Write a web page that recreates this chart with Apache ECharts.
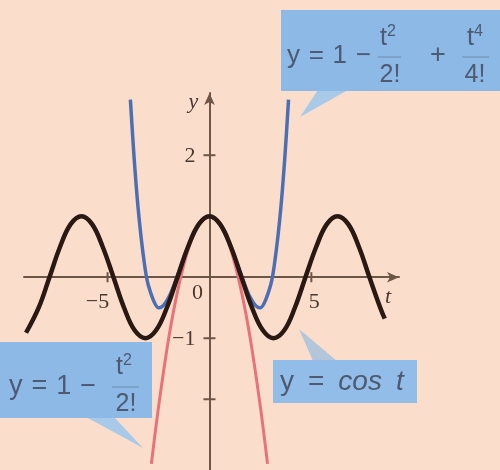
<!DOCTYPE html>
<html>
<head>
<meta charset="utf-8">
<script src="https://cdn.jsdelivr.net/npm/echarts@6/dist/echarts.min.js"></script>
<style>
  html, body { margin: 0; padding: 0; background: #fadecb; }
  #chart { width: 500px; height: 470px; }
</style>
</head>
<body>
<div id="chart"></div>
<script>
// y = cos t
const cosT = [-9.00, -8.38, -7.85, -7.33, -6.81, -6.28, -5.76, -5.24, -4.71, -4.19, -3.67, -3.14, -2.62, -2.09, -1.57, -1.05, -0.52,
              0, 0.52, 1.05, 1.57, 2.09, 2.62, 3.14, 3.67, 4.19, 4.71, 5.24, 5.76, 6.28, 6.81, 7.33, 7.85, 8.38, 8.60];
const cosY = [-0.91, -0.50, 0.00, 0.50, 0.87, 1.00, 0.87, 0.50, 0.00, -0.50, -0.87, -1.00, -0.87, -0.50, 0.00, 0.50, 0.87,
              1.00, 0.87, 0.50, 0.00, -0.50, -0.87, -1.00, -0.87, -0.50, 0.00, 0.50, 0.87, 1.00, 0.87, 0.50, 0.00, -0.50, -0.68];

// y = 1 - t^2/2! + t^4/4!
const quartT = [-3.88, -3.7, -3.5, -3.25, -3, -2.5, -2.45, -2, -1.5, -1, -0.5, 0, 0.5, 1, 1.5, 2, 2.45, 2.5, 3, 3.25, 3.5, 3.7, 3.88];
const quartY = [2.91, 1.97, 1.13, 0.37, -0.13, -0.50, -0.50, -0.33, 0.09, 0.54, 0.88, 1.00, 0.88, 0.54, 0.09, -0.33, -0.50, -0.50, -0.13, 0.37, 1.13, 1.97, 2.91];

// y = 1 - t^2/2!
const quadT = [-2.85, -2.5, -2, -1.5, -1, -0.5, 0, 0.5, 1, 1.5, 2, 2.5, 2.85];
const quadY = [-3.06, -2.13, -1.00, -0.13, 0.50, 0.88, 1.00, 0.88, 0.50, -0.13, -1.00, -2.13, -3.06];

// axis ticks and labels
const xTicks = [-5, 5];
const xTickLabels = ['−5', '5'];
const yTicks = [2, -1, -2];
const yLabelTicks = [2, -1];
const yTickLabels = ['2', '−1'];
const originLabel = '0';
const xName = 't';
const yName = 'y';

const zip = (a, b) => a.map((v, i) => [v, b[i]]);

const axisColor = '#6e5646';
const labelColor = '#4a382e';
const boxText = '#4d5a72';
const serif = '"Liberation Serif", "DejaVu Serif", serif';
const sans = '"Liberation Sans", Arial, sans-serif';
const SP = '\u2004';
const EN = '\u2002';

function tickItem(horizontal) {
  return function (params, api) {
    const v = api.value(0);
    const p = horizontal ? api.coord([v, 0]) : api.coord([0, v]);
    const shape = horizontal
      ? { x1: p[0], y1: p[1] - 5, x2: p[0], y2: p[1] + 5 }
      : { x1: p[0] - 6, y1: p[1], x2: p[0] + 6, y2: p[1] };
    return { type: 'line', shape, style: { stroke: axisColor, lineWidth: 2 } };
  };
}

function labelItem(horizontal, texts, dxs, dy, align) {
  return function (params, api) {
    const v = api.value(0);
    const p = horizontal ? api.coord([v, 0]) : api.coord([0, v]);
    return {
      type: 'text',
      x: p[0] + dxs[params.dataIndex], y: p[1] + dy,
      style: {
        text: texts[params.dataIndex], fill: labelColor,
        font: '22px ' + serif, align: align, verticalAlign: 'middle'
      }
    };
  };
}

function supText(base, sup) {
  return {
    text: base + '{s|' + sup + '}',
    rich: { s: { fontSize: 16, fontFamily: sans, fill: boxText, verticalAlign: 'top', padding: [0, 0, 12, 0] } },
    fill: boxText, font: '25px ' + sans, align: 'center', verticalAlign: 'middle'
  };
}

const chart = echarts.init(document.getElementById('chart'), null, { renderer: 'canvas' });

const option = {
  backgroundColor: '#fadecb',
  animation: false,
  grid: { left: 24, top: 93, width: 375, height: 377, containLabel: false },
  xAxis: {
    type: 'value', min: -9.1, max: 9.3,
    axisLine: { onZero: true, lineStyle: { color: axisColor, width: 2 }, symbol: ['none', 'arrow'], symbolSize: [8, 12] },
    axisTick: { show: false }, axisLabel: { show: false }, splitLine: { show: false }
  },
  yAxis: {
    type: 'value', min: -3.16, max: 3.02,
    axisLine: { onZero: true, lineStyle: { color: axisColor, width: 2 }, symbol: ['none', 'arrow'], symbolSize: [8, 12] },
    axisTick: { show: false }, axisLabel: { show: false }, splitLine: { show: false }
  },
  series: [
    { type: 'custom', renderItem: tickItem(true), data: xTicks.map(v => [v]), silent: true, z: 3 },
    { type: 'custom', renderItem: tickItem(false), data: yTicks.map(v => [v]), silent: true, z: 3 },
    {
      type: 'custom', renderItem: labelItem(true, xTickLabels, [-10, 3], 25, 'center'),
      data: xTicks.map(v => [v]), silent: true, z: 3
    },
    {
      type: 'custom', renderItem: labelItem(false, yTickLabels, [-14, -14], 1, 'right'),
      data: yLabelTicks.map(v => [v]), silent: true, z: 3
    },
    {
      type: 'custom',
      renderItem: function (params, api) {
        const o = api.coord([0, 0]);
        const xe = api.coord([9.3, 0]);
        const ye = api.coord([0, 3.02]);
        return {
          type: 'group', children: [
            { type: 'text', x: o[0] - 12, y: o[1] + 16, style: { text: originLabel, fill: labelColor, font: '22px ' + serif, align: 'center', verticalAlign: 'middle' } },
            { type: 'text', x: xe[0] - 11, y: xe[1] + 20, style: { text: xName, fill: labelColor, font: 'italic 22px ' + serif, align: 'center', verticalAlign: 'middle' } },
            { type: 'text', x: ye[0] - 16, y: ye[1] + 9, style: { text: yName, fill: labelColor, font: 'italic 22px ' + serif, align: 'center', verticalAlign: 'middle' } }
          ]
        };
      },
      data: [[0]], silent: true, z: 3
    },
    {
      name: '1 - t²/2!', type: 'line', data: zip(quadT, quadY), smooth: 0.3,
      showSymbol: false, lineStyle: { color: '#e8727a', width: 3 }, z: 4
    },
    {
      name: '1 - t²/2! + t⁴/4!', type: 'line', data: zip(quartT, quartY), smooth: 0.3,
      showSymbol: false, lineStyle: { color: '#4c6fb4', width: 3.5 }, z: 5
    },
    {
      name: 'cos t', type: 'line', data: zip(cosT, cosY), smooth: 0.4,
      showSymbol: false, lineStyle: { color: '#2a1812', width: 4.5 }, z: 6
    }
  ],
  graphic: [
    // callout: y = 1 - t^2/2! + t^4/4!
    { type: 'polygon', shape: { points: [[318, 90], [348, 90], [300, 117]] }, style: { fill: '#a9c9e8' }, z: 20 },
    { type: 'rect', shape: { x: 281, y: 10, width: 219, height: 81 }, style: { fill: '#8cb9e6' }, z: 21 },
    { type: 'text', x: 287, y: 56, style: { text: 'y' + SP + '=' + SP + '1' + SP + '−', fill: boxText, font: '26px ' + sans, align: 'left', verticalAlign: 'middle' }, z: 22 },
    { type: 'text', x: 388, y: 38, style: supText('t', '2'), z: 22 },
    { type: 'line', shape: { x1: 378, y1: 57, x2: 401, y2: 57 }, style: { stroke: boxText, lineWidth: 1, opacity: 0.45 }, z: 22 },
    { type: 'text', x: 390, y: 75, style: { text: '2!', fill: boxText, font: '25px ' + sans, align: 'center', verticalAlign: 'middle' }, z: 22 },
    { type: 'text', x: 438, y: 56, style: { text: '+', fill: boxText, font: '27px ' + sans, align: 'center', verticalAlign: 'middle' }, z: 22 },
    { type: 'text', x: 475, y: 38, style: supText('t', '4'), z: 22 },
    { type: 'line', shape: { x1: 462, y1: 57, x2: 489, y2: 57 }, style: { stroke: boxText, lineWidth: 1, opacity: 0.45 }, z: 22 },
    { type: 'text', x: 475, y: 75, style: { text: '4!', fill: boxText, font: '25px ' + sans, align: 'center', verticalAlign: 'middle' }, z: 22 },

    // callout: y = 1 - t^2/2!
    { type: 'polygon', shape: { points: [[86, 417], [114, 417], [143, 448]] }, style: { fill: '#a9c9e8' }, z: 20 },
    { type: 'rect', shape: { x: 0, y: 342, width: 152, height: 76 }, style: { fill: '#8cb9e6' }, z: 21 },
    { type: 'text', x: 9, y: 387, style: { text: 'y' + SP + '=' + SP + '1' + SP + '−', fill: boxText, font: '27px ' + sans, align: 'left', verticalAlign: 'middle' }, z: 22 },
    { type: 'text', x: 124, y: 367, style: supText('t', '2'), z: 22 },
    { type: 'line', shape: { x1: 112, y1: 387, x2: 139, y2: 387 }, style: { stroke: boxText, lineWidth: 1, opacity: 0.45 }, z: 22 },
    { type: 'text', x: 126, y: 404, style: { text: '2!', fill: boxText, font: '25px ' + sans, align: 'center', verticalAlign: 'middle' }, z: 22 },

    // callout: y = cos t
    { type: 'polygon', shape: { points: [[313, 361], [337, 361], [299, 329]] }, style: { fill: '#b3c6da' }, z: 20 },
    { type: 'rect', shape: { x: 273, y: 360, width: 144, height: 43 }, style: { fill: '#92bde8' }, z: 21 },
    {
      type: 'text', x: 280, y: 382,
      style: {
        text: 'y' + EN + '=' + EN + '{i|cos' + EN + 't}',
        rich: { i: { fontStyle: 'italic', fontSize: 28, fontFamily: sans, fill: boxText } },
        fill: boxText, font: '28px ' + sans, align: 'left', verticalAlign: 'middle'
      }, z: 22
    }
  ]
};

chart.setOption(option);
</script>
</body>
</html>
